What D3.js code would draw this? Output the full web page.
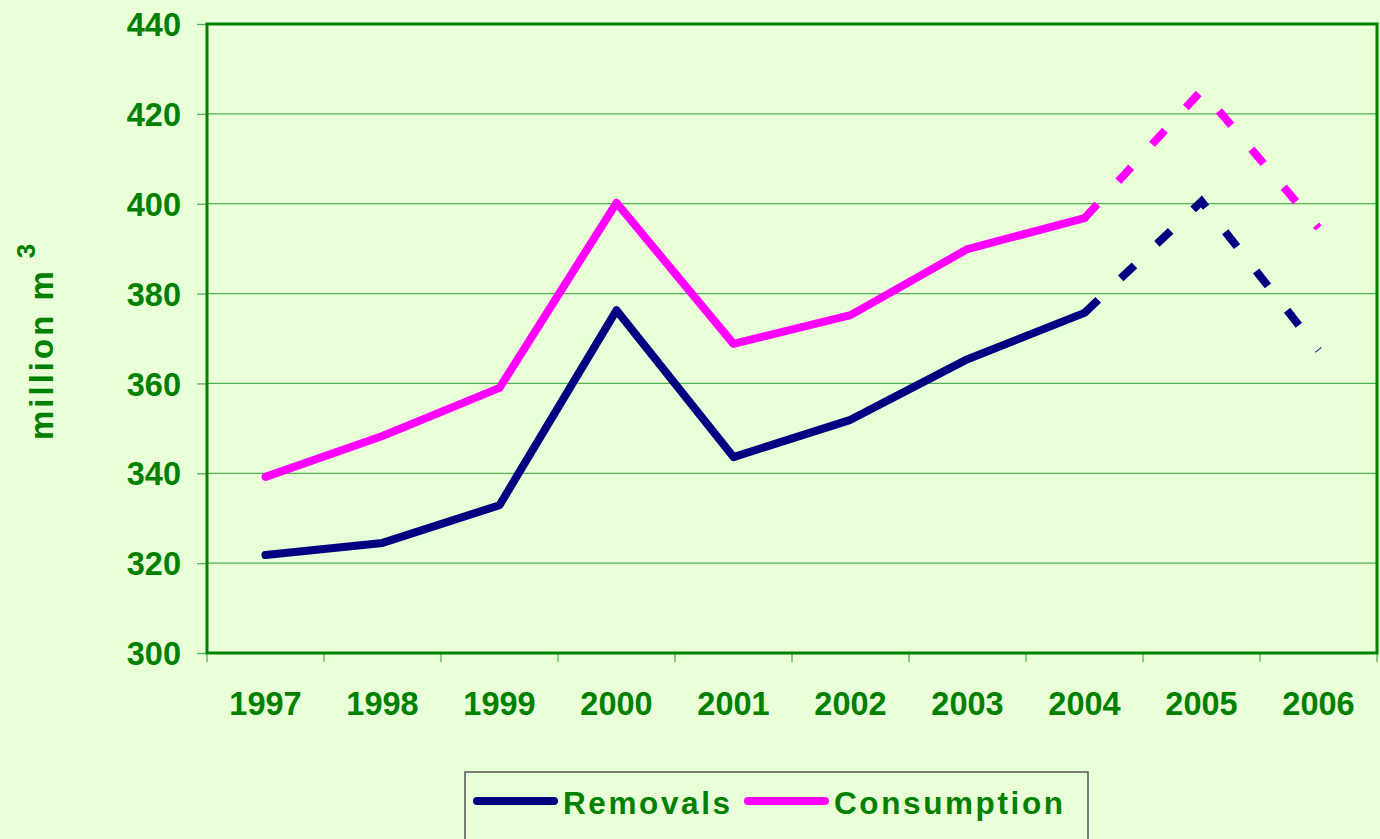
<!DOCTYPE html>
<html>
<head>
<meta charset="utf-8">
<script src="https://cdn.jsdelivr.net/npm/d3@7"></script>
<style>
  body { margin: 0; background: #e9ffd7; }
  svg text { font-family: "Liberation Sans", Arial, sans-serif; font-weight: bold; fill: #008000; }
</style>
</head>
<body>
<div id="chart"></div>
<script>
// values
const years = ["1997", "1998", "1999", "2000", "2001", "2002", "2003", "2004", "2005", "2006"];
const removals = [321.8, 324.5, 332.9, 376.3, 343.6, 351.9, 365.4, 375.7, 400.5, 367.4];
const consumption = [339.2, 348.3, 359.0, 400.2, 368.8, 375.2, 389.9, 396.8, 425.2, 394.6];
const yTicks = [300, 320, 340, 360, 380, 400, 420, 440];
const forecastFrom = 7; // 2004 onwards is dashed

let width = 1380;
let height = 839;
let plotLeft = 207, plotRight = 1377, plotTop = 24, plotBottom = 653;

let svg = d3.select("#chart").append("svg")
  .attr("width", width)
  .attr("height", height);

let x = d3.scaleBand().domain(years).range([plotLeft, plotRight]);
let y = d3.scaleLinear().domain([300, 440]).range([plotBottom, plotTop]);

// gridlines
svg.append("g")
  .selectAll("line")
  .data(yTicks.slice(1))
  .enter()
  .append("line")
  .attr("x1", plotLeft).attr("x2", plotRight)
  .attr("y1", d => y(d)).attr("y2", d => y(d))
  .style("stroke", "#55b055")
  .style("stroke-width", "1.3px");

// y axis
let yAxis = svg.append("g")
  .attr("transform", `translate(${plotLeft},0)`)
  .call(d3.axisLeft(y).tickValues(yTicks).tickSize(10).tickPadding(16));
yAxis.select(".domain").remove();
yAxis.selectAll(".tick line").style("stroke", "#55b055").style("stroke-width", "1.3px");
yAxis.selectAll("text").style("font-size", "32.5px").attr("dy", "0.36em");

// x axis, ticks sit on band edges
let xAxis = svg.append("g")
  .attr("transform", `translate(0,${plotBottom})`)
  .call(d3.axisBottom(x).tickSize(0).tickPadding(62));
xAxis.select(".domain").remove();
xAxis.selectAll("text").style("font-size", "32.5px").attr("dy", "0");
svg.append("g")
  .selectAll("line")
  .data(years.concat(["end"]))
  .enter()
  .append("line")
  .attr("x1", (d, i) => plotLeft + i * x.bandwidth())
  .attr("x2", (d, i) => plotLeft + i * x.bandwidth())
  .attr("y1", plotBottom).attr("y2", plotBottom + 9)
  .style("stroke", "#55b055")
  .style("stroke-width", "1.3px");

// plot frame
svg.append("rect")
  .attr("x", plotLeft).attr("y", plotTop)
  .attr("width", plotRight - plotLeft).attr("height", plotBottom - plotTop)
  .style("fill", "none")
  .style("stroke", "#008000")
  .style("stroke-width", "3px");

let series = [
  { name: "Removals", values: removals, color: "#000080" },
  { name: "Consumption", values: consumption, color: "#ff00ff" }
];

let line = d3.line()
  .x(d => x(d.year) + x.bandwidth() / 2)
  .y(d => y(d.v));

series.forEach(s => {
  let pts = s.values.map((v, i) => ({ year: years[i], v: v }));
  svg.append("path")
    .attr("d", line(pts.slice(0, forecastFrom + 1)))
    .style("fill", "none")
    .style("stroke", s.color)
    .style("stroke-width", "8px")
    .style("stroke-linejoin", "round")
    .style("stroke-linecap", "round");
  svg.append("path")
    .attr("d", line(pts.slice(forecastFrom)))
    .style("fill", "none")
    .style("stroke", s.color)
    .style("stroke-width", "8px")
    .style("stroke-dasharray", "19,31");
});

// y title
svg.append("text")
  .attr("transform", "translate(53,440) rotate(-90)")
  .style("font-size", "33px")
  .style("letter-spacing", "3px")
  .text("million m")
  .append("tspan")
  .attr("dx", 10)
  .attr("dy", -18)
  .style("font-size", "26px")
  .style("letter-spacing", "0px")
  .text("3");

// legend
let lg = svg.append("g");
lg.append("rect")
  .attr("x", 465).attr("y", 772)
  .attr("width", 623).attr("height", 90)
  .style("fill", "#e9ffd7")
  .style("stroke", "#555")
  .style("stroke-width", "1.5px");
let legendX = [477, 748];
series.forEach((s, i) => {
  lg.append("line")
    .attr("x1", legendX[i]).attr("x2", legendX[i] + 77)
    .attr("y1", 801).attr("y2", 801)
    .style("stroke", s.color)
    .style("stroke-width", "8px")
    .style("stroke-linecap", "round");
  lg.append("text")
    .attr("x", legendX[i] + 86)
    .attr("y", 814)
    .style("font-size", "31.5px")
    .style("letter-spacing", "2.6px")
    .text(s.name);
});
</script>
</body>
</html>
